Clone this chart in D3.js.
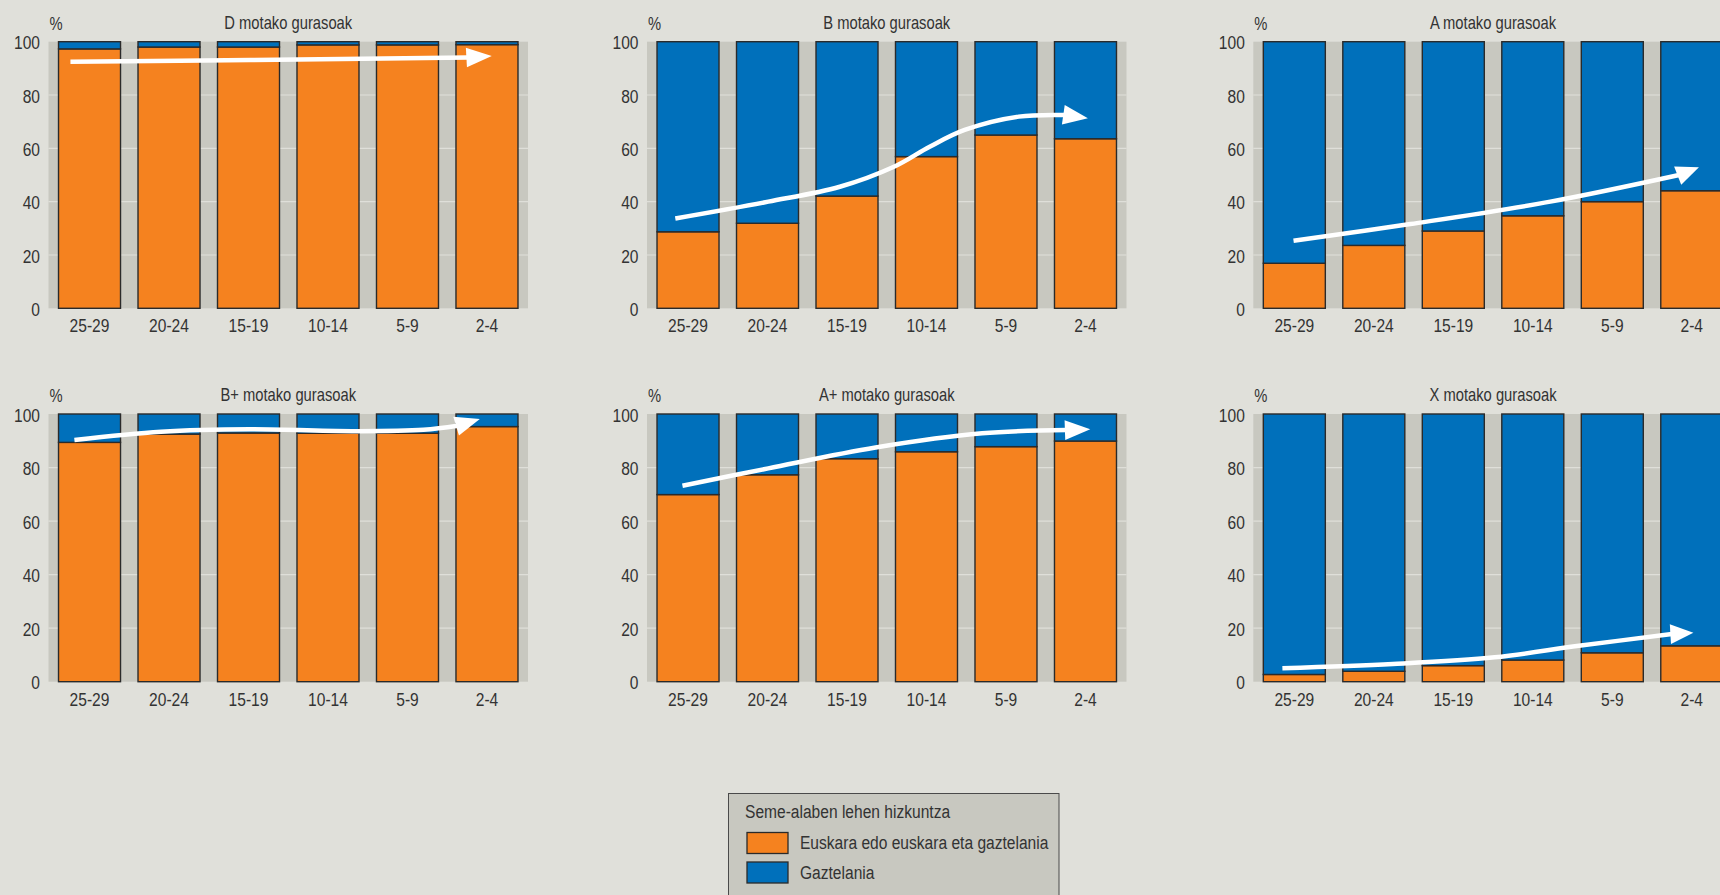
<!DOCTYPE html>
<html>
<head>
<meta charset="utf-8">
<script src="https://cdn.jsdelivr.net/npm/d3@7/dist/d3.min.js"></script>
<style>
  html, body { margin: 0; padding: 0; background: #e0e0da; }
  svg { display: block; }
  text { font-family: "Liberation Sans", Arial, sans-serif; fill: #333; }
</style>
</head>
<body>
<svg id="chart" width="1720" height="895"></svg>
<script>
// ---------------- DATA ----------------
const categories = ["25-29", "20-24", "15-19", "10-14", "5-9", "2-4"];
const yTicks = [0, 20, 40, 60, 80, 100];
const gridValues = [20, 40, 60, 80];
const panelTitles = ["D motako gurasoak", "B motako gurasoak", "A motako gurasoak",
                     "B+ motako gurasoak", "A+ motako gurasoak", "X motako gurasoak"];
const unitLabel = "%";
const legendTitle = "Seme-alaben lehen hizkuntza";
const seriesNames = ["Euskara edo euskara eta gaztelania", "Gaztelania"];

// Euskara edo euskara eta gaztelania (%)
const euskaraD  = [97.3, 98.0, 98.0, 98.8, 98.8, 98.9];
const euskaraB  = [28.7, 31.9, 42.1, 56.9, 65.0, 63.6];
const euskaraA  = [16.9, 23.6, 29.0, 34.7, 40.0, 44.1];
const euskaraBp = [89.4, 92.5, 92.9, 92.8, 92.8, 95.3];
const euskaraAp = [69.9, 77.3, 83.3, 85.9, 87.8, 89.9];
const euskaraX  = [2.7, 3.9, 6.0, 8.1, 10.8, 13.4];

// Gaztelania (%)
const gaztelaniaD  = [2.7, 2.0, 2.0, 1.2, 1.2, 1.1];
const gaztelaniaB  = [71.3, 68.1, 57.9, 43.1, 35.0, 36.4];
const gaztelaniaA  = [83.1, 76.4, 71.0, 65.3, 60.0, 55.9];
const gaztelaniaBp = [10.6, 7.5, 7.1, 7.2, 7.2, 4.7];
const gaztelaniaAp = [30.1, 22.7, 16.7, 14.1, 12.2, 10.1];
const gaztelaniaX  = [97.3, 96.1, 94.0, 91.9, 89.2, 86.6];

// Trend arrows: [category position (0 = first bar centre, 5 = last), %]
const arrowD  = [[-0.24, 92.5], [2.02, 93.1], [4.76, 94.1]];
const arrowB  = [[-0.16, 33.7], [1.01, 40.0], [1.91, 45.6], [2.59, 53.1], [3.04, 60.6], [3.48, 66.9], [4.16, 71.9], [4.74, 72.5]];
const arrowA  = [[-0.01, 25.3], [1.46, 31.6], [3.22, 40.0], [4.84, 50.0]];
const arrowBp = [[-0.19, 90.3], [0.90, 93.4], [2.02, 94.3], [3.36, 93.6], [4.20, 94.1], [4.63, 95.6]];
const arrowAp = [[-0.07, 73.2], [1.01, 79.7], [2.36, 87.5], [3.70, 92.8], [4.76, 94.0]];
const arrowX  = [[-0.15, 5.0], [1.24, 6.6], [2.52, 9.1], [3.58, 13.4], [4.75, 17.8]];
const arrowTips = [[5.06, 94.6], [5.03, 71.25], [5.09, 52.9], [4.91, 98.1], [5.06, 94.3], [5.02, 18.3]];

// ---------------- LAYOUT ----------------
const euskara = [euskaraD, euskaraB, euskaraA, euskaraBp, euskaraAp, euskaraX];
const gaztelania = [gaztelaniaD, gaztelaniaB, gaztelaniaA, gaztelaniaBp, gaztelaniaAp, gaztelaniaX];
const arrows = [arrowD, arrowB, arrowA, arrowBp, arrowAp, arrowX];

const colLefts = [48.5, 647, 1253.3];
const bandWidth = 479.5;
const rowTops = [41.7, 414];
const rowBottoms = [308.3, 681.7];

const COL_OR = "#f5821f";
const COL_BL = "#0070bb";
const COL_BAND = "#c8c8c0";
const COL_GRID = "#dfdfd9";
const COL_STROKE = "#2a2a2a";
const NARROW = 0.82; // horizontal condensing of the type

// narrow text helper: keeps anchor position, condenses glyphs horizontally
function narrow(sel) {
  sel.each(function () {
    const t = d3.select(this);
    const x = +(t.attr("x") || 0);
    t.attr("x", x / NARROW).attr("transform", `scale(${NARROW},1)`);
  });
  return sel;
}

const svg = d3.select("#chart");

panelTitles.forEach((title, p) => {
  const col = p % 3, row = Math.floor(p / 3);
  const left = colLefts[col], right = left + bandWidth;
  const top = rowTops[row], bottom = rowBottoms[row];

  const x = d3.scaleBand().domain(categories).range([left, right])
    .paddingInner(0.22).paddingOuter(0.126);
  const y = d3.scaleLinear().domain([0, 100]).range([bottom, top]);
  const g = svg.append("g");

  // background band
  g.append("rect").attr("x", left).attr("y", y(100))
    .attr("width", right - left).attr("height", y(0) - y(100))
    .attr("fill", COL_BAND);

  // grid lines
  g.selectAll("line.grid").data(gridValues).join("line")
    .attr("x1", left).attr("x2", right)
    .attr("y1", d => y(d)).attr("y2", d => y(d))
    .attr("stroke", COL_GRID).attr("stroke-width", 1.2);

  // bars
  const rows = categories.map((c, i) => ({ c, eu: euskara[p][i], ga: gaztelania[p][i] }));
  g.selectAll("rect.eu").data(rows).join("rect")
    .attr("x", d => x(d.c)).attr("width", x.bandwidth())
    .attr("y", d => y(d.eu)).attr("height", d => y(0) - y(d.eu))
    .attr("fill", COL_OR).attr("stroke", COL_STROKE).attr("stroke-width", 1.4);
  g.selectAll("rect.ga").data(rows).join("rect")
    .attr("x", d => x(d.c)).attr("width", x.bandwidth())
    .attr("y", d => y(d.eu + d.ga)).attr("height", d => y(d.eu) - y(d.eu + d.ga))
    .attr("fill", COL_BL).attr("stroke", COL_STROKE).attr("stroke-width", 1.4);

  // y axis
  const ya = g.append("g").attr("transform", `translate(${left},0)`)
    .call(d3.axisLeft(y).tickValues(yTicks).tickSize(0).tickPadding(8.5));
  ya.select(".domain").remove();
  ya.attr("font-family", null).attr("font-size", null);
  narrow(ya.selectAll("text").attr("dy", "0.38em").style("font-size", "19px").attr("fill", "#333"));

  // x axis
  const xa = g.append("g").attr("transform", `translate(0,${bottom})`)
    .call(d3.axisBottom(x).tickSize(0));
  xa.select(".domain").remove();
  xa.attr("font-family", null).attr("font-size", null);
  narrow(xa.selectAll("text").attr("y", 24).attr("dy", 0).style("font-size", "19px").attr("fill", "#333"));

  // title and unit
  narrow(g.append("text").attr("x", (left + right) / 2).attr("y", top - 13)
    .attr("text-anchor", "middle").style("font-size", "18px").text(title));
  narrow(g.append("text").attr("x", left + 1).attr("y", top - 12)
    .style("font-size", "18px").text(unitLabel));

  // trend arrow
  const cx = d3.scaleLinear().domain([0, categories.length - 1])
    .range([x(categories[0]) + x.bandwidth() / 2, x(categories[categories.length - 1]) + x.bandwidth() / 2]);
  const line = d3.line().x(d => cx(d[0])).y(d => y(d[1])).curve(d3.curveCatmullRom.alpha(0.5));
  const pts = arrows[p];
  g.append("path").attr("d", line(pts)).attr("fill", "none")
    .attr("stroke", "#ffffff").attr("stroke-width", 4.5);
  const end = pts[pts.length - 1], tip = arrowTips[p];
  const ex = cx(end[0]), ey = y(end[1]), tx = cx(tip[0]), ty = y(tip[1]);
  const dx = tx - ex, dy = ty - ey, len = Math.hypot(dx, dy);
  const nx = -dy / len, ny = dx / len, hw = 9.8;
  const bx = ex - dx / len * 1.5, by = ey - dy / len * 1.5;
  g.append("path")
    .attr("d", `M${bx + nx * hw},${by + ny * hw}L${tx},${ty}L${bx - nx * hw},${by - ny * hw}Z`)
    .attr("fill", "#ffffff");
});

// ---------------- LEGEND ----------------
const lg = svg.append("g");
lg.append("rect").attr("x", 728.5).attr("y", 793.5).attr("width", 330.5).attr("height", 120)
  .attr("fill", COL_BAND).attr("stroke", "#4a4a4a").attr("stroke-width", 1);
narrow(lg.append("text").attr("x", 745).attr("y", 818).style("font-size", "19px").text(legendTitle));
const legendColors = [COL_OR, COL_BL];
seriesNames.forEach((name, i) => {
  const yy = 832.5 + i * 29.5;
  lg.append("rect").attr("x", 747).attr("y", yy).attr("width", 41).attr("height", 21)
    .attr("fill", legendColors[i]).attr("stroke", COL_STROKE).attr("stroke-width", 1.3);
  narrow(lg.append("text").attr("x", 800).attr("y", yy + 17).style("font-size", "19px").text(name));
});
</script>
</body>
</html>
